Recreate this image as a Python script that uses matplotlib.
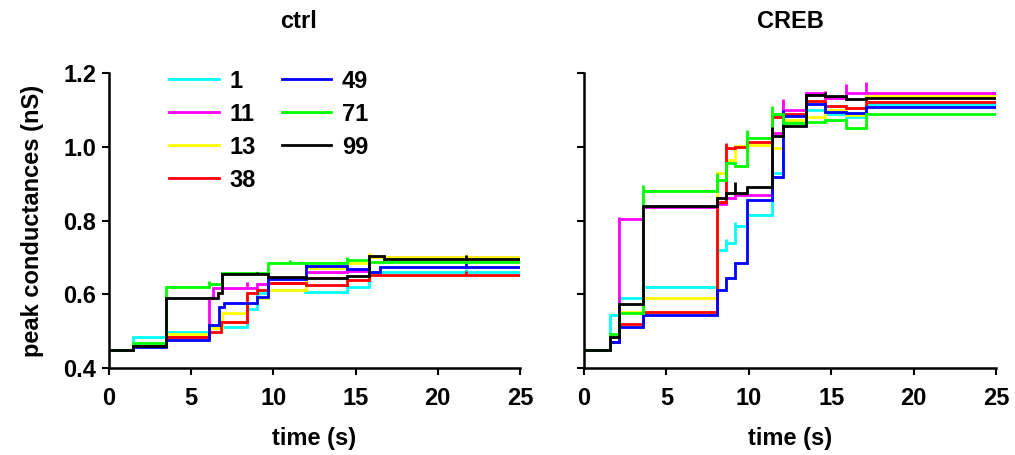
import matplotlib
matplotlib.use("Agg")
import matplotlib.pyplot as plt

plt.rcParams['font.family'] = ['Liberation Sans', 'DejaVu Sans']
plt.rcParams['font.weight'] = 'bold'

labels = ["1", "11", "13", "38", "49", "71", "99"]
colors = ["#00FFFF", "#FF00FF", "#FFFF00", "#FF0000", "#0000FF", "#00FF00", "#000000"]

# ---- ctrl panel: step breakpoints (time s, conductance nS)
ctrl_t_1 = [0, 1.46, 3.45, 6.1, 8.4, 9.0, 9.7, 11.9, 14.5, 15.8, 25]
ctrl_v_1 = [0.45, 0.484, 0.498, 0.51, 0.56, 0.603, 0.611, 0.607, 0.62, 0.659, 0.659]
ctrl_t_11 = [0, 1.46, 3.45, 6.1, 6.3, 9.0, 9.7, 12.0, 14.5, 15.8, 25]
ctrl_v_11 = [0.45, 0.461, 0.485, 0.59, 0.617, 0.628, 0.631, 0.66, 0.662, 0.70, 0.70]
ctrl_t_13 = [0, 1.46, 3.45, 6.1, 6.9, 8.4, 9.0, 9.7, 12.0, 14.5, 15.8, 25]
ctrl_v_13 = [0.45, 0.461, 0.492, 0.508, 0.549, 0.577, 0.59, 0.611, 0.671, 0.685, 0.702, 0.702]
ctrl_t_38 = [0, 1.46, 3.45, 6.1, 6.8, 8.4, 9.0, 9.7, 12.0, 14.5, 15.8, 25]
ctrl_v_38 = [0.45, 0.461, 0.485, 0.498, 0.525, 0.603, 0.611, 0.63, 0.625, 0.638, 0.653, 0.653]
ctrl_t_49 = [0, 1.46, 3.45, 6.1, 6.7, 7.0, 9.0, 9.7, 12.0, 14.5, 15.8, 16.5, 25]
ctrl_v_49 = [0.45, 0.458, 0.476, 0.517, 0.566, 0.577, 0.593, 0.642, 0.677, 0.668, 0.66, 0.675, 0.675]
ctrl_t_71 = [0, 1.46, 3.45, 6.1, 6.9, 9.7, 14.5, 15.8, 25]
ctrl_v_71 = [0.45, 0.468, 0.62, 0.628, 0.657, 0.686, 0.693, 0.688, 0.688]
ctrl_t_99 = [0, 1.46, 3.45, 6.6, 6.9, 9.7, 12.0, 14.5, 15.8, 16.7, 25]
ctrl_v_99 = [0.45, 0.461, 0.59, 0.604, 0.654, 0.646, 0.643, 0.65, 0.705, 0.696, 0.696]

# transient peaks (time, peak value) per series
ctrl_spk_71 = [(6.1, 0.636), (11.0, 0.692), (14.5, 0.70)]
ctrl_spk_99 = [(21.7, 0.706), (9.0, 0.66)]
ctrl_spk_49 = [(1.46, 0.466), (12.0, 0.684), (21.7, 0.684)]
ctrl_spk_1 = [(21.7, 0.668)]
ctrl_spk_38 = [(21.7, 0.662)]
ctrl_spk_13 = [(15.8, 0.712), (21.7, 0.71)]
ctrl_spk_11 = [(8.4, 0.633)]

# ---- CREB panel
creb_t = [0, 1.58, 2.14, 3.6, 8.05, 8.62, 9.16, 9.87, 11.39, 12.09, 13.47, 14.62, 15.9, 17.1, 25]
creb_v_1 = [0.45, 0.544, 0.589, 0.619, 0.72, 0.74, 0.785, 0.815, 0.93, 1.07, 1.10, 1.09, 1.082, 1.117, 1.117]
creb_v_11 = [0.45, 0.471, 0.804, 0.837, 0.845, 0.86, 0.869, 0.87, 1.036, 1.10, 1.145, 1.131, 1.145, 1.147, 1.147]
creb_v_13 = [0.45, 0.485, 0.553, 0.589, 0.928, 0.964, 1.002, 1.005, 0.997, 1.073, 1.082, 1.10, 1.086, 1.138, 1.138]
creb_v_38 = [0.45, 0.471, 0.518, 0.553, 0.851, 0.996, 1.0, 1.014, 1.082, 1.09, 1.125, 1.11, 1.104, 1.122, 1.122]
creb_v_49 = [0.45, 0.471, 0.512, 0.544, 0.612, 0.643, 0.684, 0.856, 0.919, 1.083, 1.116, 1.095, 1.092, 1.109, 1.109]
creb_v_71 = [0.45, 0.491, 0.548, 0.88, 0.91, 0.955, 0.948, 1.023, 1.09, 1.065, 1.068, 1.072, 1.05, 1.09, 1.09]
creb_v_99 = [0.45, 0.485, 0.573, 0.84, 0.86, 0.874, 0.874, 0.89, 1.03, 1.057, 1.14, 1.138, 1.129, 1.131, 1.131]

creb_spk_11 = [(12.09, 1.13), (14.62, 1.152), (15.9, 1.17), (17.1, 1.176), (2.14, 0.81)]
creb_spk_71 = [(9.87, 1.045), (11.39, 1.111), (3.6, 0.895), (8.05, 0.93)]
creb_spk_99 = [(9.16, 0.905), (11.39, 1.054), (14.62, 1.148)]
creb_spk_13 = [(8.05, 0.935), (8.62, 0.975)]
creb_spk_38 = [(8.62, 1.01)]
creb_spk_49 = [(12.09, 1.1)]
creb_spk_1 = [(8.62, 0.75), (9.16, 0.795)]

ctrl_series = [(ctrl_t_1, ctrl_v_1, ctrl_spk_1), (ctrl_t_11, ctrl_v_11, ctrl_spk_11),
               (ctrl_t_13, ctrl_v_13, ctrl_spk_13), (ctrl_t_38, ctrl_v_38, ctrl_spk_38),
               (ctrl_t_49, ctrl_v_49, ctrl_spk_49), (ctrl_t_71, ctrl_v_71, ctrl_spk_71),
               (ctrl_t_99, ctrl_v_99, ctrl_spk_99)]
creb_series = [(creb_t, creb_v_1, creb_spk_1), (creb_t, creb_v_11, creb_spk_11),
               (creb_t, creb_v_13, creb_spk_13), (creb_t, creb_v_38, creb_spk_38),
               (creb_t, creb_v_49, creb_spk_49), (creb_t, creb_v_71, creb_spk_71),
               (creb_t, creb_v_99, creb_spk_99)]

W, H = 1015, 455
FS = 17
fig = plt.figure(figsize=(W / 100, H / 100), dpi=100)
axL = fig.add_axes([109 / W, (H - 368) / H, 411 / W, 295 / H])
axR = fig.add_axes([584 / W, (H - 368) / H, 412 / W, 295 / H])

def value_at(t, v, x):
    val = v[0]
    for ti, vi in zip(t, v):
        if ti <= x:
            val = vi
    return val

LW = 2.0
for ax, series, title in [(axL, ctrl_series, "ctrl"), (axR, creb_series, "CREB")]:
    for (t, v, spk), col, lab in zip(series, colors, labels):
        ax.plot(t, v, drawstyle='steps-post', color=col, lw=LW, label=lab,
                solid_joinstyle='miter')
        for (st, sp) in spk:
            ax.vlines(st, value_at(t, v, st), sp, color=col, lw=LW)
    ax.set_xlim(0, 25)
    ax.set_ylim(0.4, 1.2)
    ax.set_xticks([0, 5, 10, 15, 20, 25])
    ax.set_yticks([0.4, 0.6, 0.8, 1.0, 1.2])
    for s in ['top', 'right']:
        ax.spines[s].set_visible(False)
    for s in ['left', 'bottom']:
        ax.spines[s].set_linewidth(1.8)
    ax.tick_params(direction='out', length=5, width=1.5, labelsize=FS)
    ax.tick_params(axis='x', pad=9)
    ax.tick_params(axis='y', pad=4)
    ax.set_xlabel("time (s)", fontsize=FS, fontweight='bold', labelpad=12)
    ax.text(0.46 if title == "ctrl" else 0.5, 1.175, title, transform=ax.transAxes,
            ha='center', va='center', fontsize=FS, fontweight='bold')

axL.set_yticklabels(["0.4", "0.6", "0.8", "1.0", "1.2"])
axR.set_yticklabels([])
axL.set_ylabel("peak conductances (nS)", fontsize=FS, fontweight='bold', labelpad=14)

axL.legend(ncol=2, frameon=False, loc='upper left', bbox_to_anchor=(0.146, 1.011),
           fontsize=FS, handlelength=2.1, labelspacing=0.42, columnspacing=1.1,
           handletextpad=0.45, borderpad=0, borderaxespad=0)

fig.savefig("out.png", dpi=100)
